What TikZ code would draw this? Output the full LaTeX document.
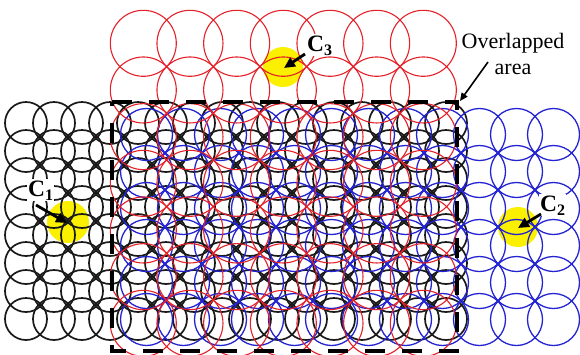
\documentclass[tikz,border=0pt]{standalone}
\usepackage{fontspec}
\setmainfont{Liberation Serif}
\usetikzlibrary{arrows.meta}
\definecolor{cred}{RGB}{228,32,40}
\definecolor{cblue}{RGB}{35,35,210}
\definecolor{cyel}{RGB}{250,240,0}
\newcommand{\Csub}[1]{C\raisebox{-4pt}{\fontsize{16}{16}\selectfont #1}}
\begin{document}
\begin{tikzpicture}[x=1pt,y=-1pt,
  blackc/.style={draw=black!90, line width=1.7pt},
  bluec/.style={draw=cblue, line width=1.3pt},
  redc/.style={draw=cred, line width=1.1pt},
  hilite/.style={fill=cyel},
  boxline/.style={line width=4pt, dash pattern=on 20pt off 17pt},
  lab/.style={inner sep=1pt, fill=white, font=\fontsize{23.5}{24}\selectfont\bfseries},
  txt/.style={inner sep=0pt, font=\fontsize{22}{26}\selectfont},
  bigarrow/.style={line width=2.8pt, -{Triangle[length=11pt,width=10pt]}},
  thinarrow/.style={line width=1.6pt, -{Triangle[length=8pt,width=7pt]}}]
\useasboundingbox (0,0) rectangle (580,354);
% highlights
\fill[hilite] (68,222) circle (21pt);
\fill[hilite] (283,67) circle (20pt);
\fill[hilite] (518,227) circle (20pt);
% black grid
\foreach \i in {0,...,15} \foreach \j in {0,...,7}
  \draw[blackc] (26+28*\i,123+28*\j) circle (21pt);
% blue grid
\foreach \i in {0,...,11} \foreach \j in {0,...,5}
  \draw[bluec] (553.5-37*\i,134.5+37*\j) circle (26pt);
% red grid
\foreach \i in {0,...,6} \foreach \j in {0,...,6}
  \draw[redc] (143.3+46.67*\i,43.3+46.67*\j) circle (33pt);
% overlapped area box
\draw[boxline] (112,102) -- (457,102) -- (457,351) -- (112,351) -- cycle;
% labels
\node[lab, anchor=base west] (c1) at (27,196) {\Csub{1}};
\node[lab, anchor=base west] (c3) at (306,51) {\Csub{3}};
\node[lab, anchor=base west] (c2) at (539,211) {\Csub{2}};
\node[txt, anchor=base] (ov1) at (513,48) {Overlapped};
\node[txt, anchor=base] (ov2) at (513,74) {area};
% arrow ends
\coordinate (c1s) at (36,205);
\coordinate (c1t) at (67,223);
\coordinate (c3s) at (305,54);
\coordinate (c3t) at (284,68);
\coordinate (c2s) at (541,214);
\coordinate (c2t) at (518,228);
\coordinate (ovs) at (488,62);
\coordinate (ovt) at (460,101);
\draw[bigarrow] (c1s) -- (c1t);
\draw[bigarrow] (c3s) -- (c3t);
\draw[bigarrow] (c2s) -- (c2t);
\draw[thinarrow] (ovs) -- (ovt);
\end{tikzpicture}
\end{document}
